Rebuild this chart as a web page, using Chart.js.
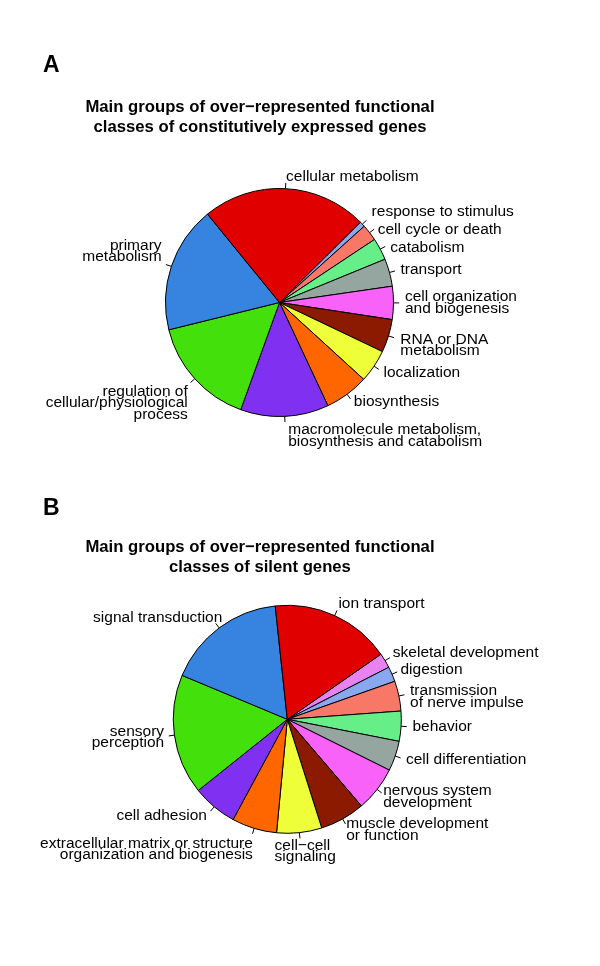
<!DOCTYPE html>
<html>
<head>
<meta charset="utf-8">
<script src="https://cdn.jsdelivr.net/npm/chart.js@4.4.0/dist/chart.umd.min.js"></script>
<style>
  body { margin: 0; background: #fff; }
  #page { position: relative; width: 600px; height: 966px; font-family: "Liberation Sans", Arial, sans-serif; color: #000; }
  .panel { position: absolute; left: 0; width: 600px; height: 483px; }
  .letter { position: absolute; left: 43px; font-weight: bold; font-size: 23px; line-height: 23px; }
  .title { position: absolute; left: 0; width: 520px; text-align: center; font-weight: bold; font-size: 16.7px; line-height: 20px; }
</style>
</head>
<body>
<div id="page">
  <div class="panel" style="top:0"><canvas id="chartA" width="600" height="483"></canvas></div>
  <div class="panel" style="top:483px"><canvas id="chartB" width="600" height="483"></canvas></div>
  <div class="letter" style="top:53px">A</div>
  <div class="title" style="top:97px">Main groups of over−represented functional<br>classes of constitutively expressed genes</div>
  <div class="letter" style="top:496px">B</div>
  <div class="title" style="top:537px">Main groups of over−represented functional<br>classes of silent genes</div>
</div>
<script>
// panel A - constitutively expressed genes (R pie order, counter-clockwise)
const labelsA = ['cellular metabolism', 'primary\nmetabolism', 'regulation of\ncellular/physiological\nprocess',
    'macromolecule metabolism,\nbiosynthesis and catabolism', 'biosynthesis', 'localization',
    'RNA or DNA\nmetabolism', 'cell organization\nand biogenesis', 'transport', 'catabolism',
    'cell cycle or death', 'response to stimulus'];
const countsA = [30, 23, 20, 16, 8, 6, 6, 6, 5, 4, 3, 1];

// panel B - silent genes
const labelsB = ['ion transport', 'signal transduction', 'sensory\nperception', 'cell adhesion',
    'extracellular matrix or structure\norganization and biogenesis', 'cell−cell\nsignaling',
    'muscle development\nor function', 'nervous system\ndevelopment', 'cell differentiation',
    'behavior', 'transmission\nof nerve impulse', 'digestion', 'skeletal development'];
const countsB = [8, 8, 8, 3, 3, 3, 3, 3, 2, 2, 2, 1, 1];

const palette = ['#E00000', '#3784E0', '#44E00C', '#8030F0', '#FF6600', '#EEFF3A', '#8B1A00',
    '#F862F8', '#95A5A0', '#66EE88', '#F87868', '#8AA8F0', '#E882F0'];

// hand nudges of the label text (px), same order as the labels
const nudgeA = [[0, 0], [1, -11], [1.5, 17], [3, 8], [0, -1], [0, 0], [1, 6], [0, 0], [0, 1], [0, 4.5], [-1, 4], [1, -4]];
const nudgeB = [[-1, -1], [10, -1], [1, 1], [0, 0], [2, 10], [-26, 7.5], [-2, 1], [-3, 0.5], [0, 0], [0, 0], [0, 3.5], [-2, 0], [-2, -2]];

// R draws labels outside the slice with a short tick
const pieLabels = {
    id: 'pieLabels',
    afterDatasetsDraw(chart, args, opts) {
        const ctx = chart.ctx;
        const meta = chart.getDatasetMeta(0);
        const names = chart.data.labels;
        const nudge = opts.nudge || [];
        const lh = 11.5;
        ctx.save();
        ctx.font = '15.5px "Liberation Sans", Arial, sans-serif';
        ctx.fillStyle = '#000';
        ctx.strokeStyle = '#000';
        ctx.lineWidth = 1;
        meta.data.forEach((arc, i) => {
            const p = arc.getProps(['x', 'y', 'startAngle', 'endAngle', 'outerRadius']);
            const mid = (p.startAngle + p.endAngle) / 2;
            const c = Math.cos(mid), s = Math.sin(mid);
            const r = p.outerRadius;
            ctx.beginPath();
            ctx.moveTo(p.x + r * c, p.y + r * s);
            ctx.lineTo(p.x + 1.05 * r * c, p.y + 1.05 * r * s);
            ctx.stroke();
            const lines = names[i].split('\n');
            const nd = nudge[i] || [0, 0];
            const tx = p.x + 1.1 * r * c + nd[0];
            const ty = p.y + 1.1 * r * s + nd[1];
            ctx.textAlign = c > 0 ? 'left' : 'right';
            ctx.textBaseline = 'alphabetic';
            const y0 = ty + 4 - (lines.length - 1) * lh / 2;
            lines.forEach((ln, k) => ctx.fillText(ln, tx, y0 + k * lh));
        });
        ctx.restore();
    }
};

function makePie(id, labels, counts, nudge, rotation, padding) {
    // Chart.js goes clockwise, R goes counter-clockwise -> reverse
    const n = labels.length;
    return new Chart(document.getElementById(id).getContext('2d'), {
        type: 'pie',
        data: {
            labels: labels.slice().reverse(),
            datasets: [{
                data: counts.slice().reverse(),
                backgroundColor: palette.slice(0, n).reverse(),
                borderColor: '#000',
                borderWidth: 1
            }]
        },
        options: {
            responsive: false,
            animation: false,
            events: [],
            rotation: rotation,
            radius: 114,
            layout: { padding: padding },
            plugins: {
                legend: { display: false },
                tooltip: { enabled: false },
                pieLabels: { nudge: nudge.slice().reverse() }
            }
        },
        plugins: [pieLabels]
    });
}

const chartA = makePie('chartA', labelsA, countsA, nudgeA, 45.2,
    { left: 159.5, right: 200.5, top: 182.5, bottom: 60.5 });
const chartB = makePie('chartB', labelsB, countsB, nudgeB, 55.2,
    { left: 167.3, right: 192.7, top: 116.3, bottom: 126.7 });
</script>
</body>
</html>
